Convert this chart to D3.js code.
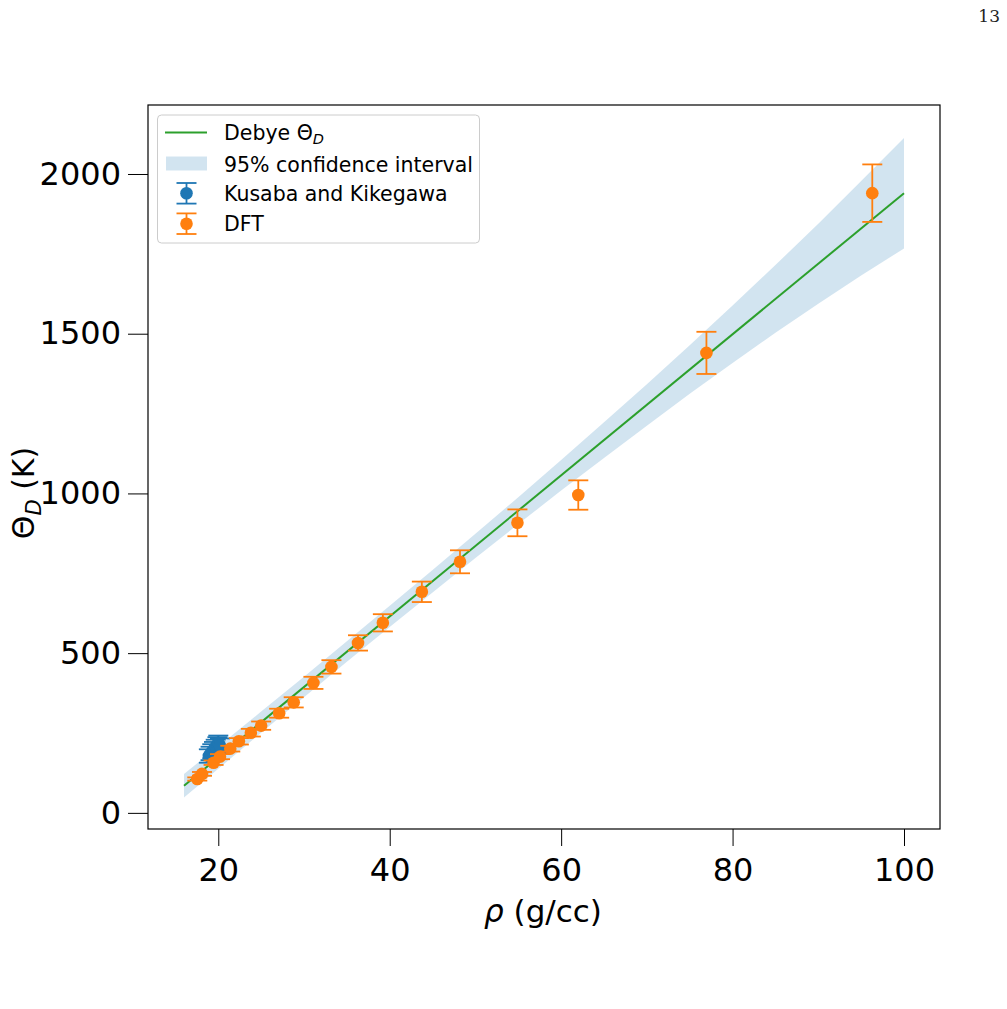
<!DOCTYPE html>
<html>
<head>
<meta charset="utf-8">
<script src="https://cdn.jsdelivr.net/npm/d3@7"></script>
<style>
  html, body { margin: 0; padding: 0; background: #fff; }
  svg { display: block; font-family: "DejaVu Sans", sans-serif; }
</style>
</head>
<body>
<svg id="chart" width="1007" height="1009"></svg>
<script>
// ---------------- data ----------------
const xTicks = [20, 40, 60, 80, 100];
const yTicks = [0, 500, 1000, 1500, 2000];

// Debye fit line (endpoints of the fitted line)
const fitRho   = [16, 100];
const fitTheta = [85, 1940];

// 95% confidence band
const bandRho  = [16, 20, 25, 30, 35, 40, 45, 50, 55, 60, 65, 70, 75, 80, 85, 90, 95, 100];
const bandLow  = [48, 138, 251, 362, 473, 582, 690, 798, 904, 1009, 1111, 1212, 1312, 1408, 1503, 1594, 1682, 1767];
const bandHigh = [122, 208, 317, 426, 537, 648, 760, 874, 988, 1105, 1223, 1342, 1464, 1588, 1715, 1844, 1978, 2113];

// Kusaba and Kikegawa
const kkRho   = [18.9, 19.1, 19.3, 19.5, 19.7, 19.9, 20.0, 20.2];
const kkTheta = [178, 186, 193, 200, 207, 214, 219, 210];
const kkErr   = [21, 21, 22, 22, 22, 23, 23, 23];

// DFT
const dftRho   = [17.55, 18.1, 19.45, 20.2, 21.4, 22.4, 23.8, 25.0, 27.1, 28.8, 31.1, 33.2, 36.3, 39.2, 43.75, 48.2, 54.9, 62.0, 76.95, 96.3];
const dftTheta = [106, 122, 157, 176, 201, 224, 251, 273, 312, 346, 407, 457, 532, 595, 692, 786, 908, 995, 1440, 1940];
const dftErr   = [5, 6, 7, 8, 9, 10, 12, 13, 14, 16, 19, 21, 24, 27, 32, 36, 42, 46, 66, 90];

const legendLabels = ["Debye", "95% confidence interval", "Kusaba and Kikegawa", "DFT"];

// ---------------- layout ----------------
const svg = d3.select("#chart");
const L = 148, R = 940, T = 105, B = 829;
const C_BLUE = "#1f77b4", C_ORANGE = "#ff7f0e", C_GREEN = "#2ca02c";

const x = d3.scaleLinear().domain([11.8, 104.2]).range([L, R]);
const y = d3.scaleLinear().domain([-50.5, 2216]).range([B, T]);

// page number
svg.append("text").attr("x", 1000).attr("y", 22).attr("text-anchor", "end")
  .style("font-family", "'DejaVu Serif', 'Liberation Serif', serif").style("font-size", "17px")
  .attr("fill", "#222").text("13");

const plot = svg.append("g");

// band
const band = bandRho.map((r, i) => ({r, lo: bandLow[i], hi: bandHigh[i]}));
plot.append("path").datum(band)
  .attr("d", d3.area().x(d => x(d.r)).y0(d => y(d.lo)).y1(d => y(d.hi)))
  .attr("fill", C_BLUE).attr("fill-opacity", 0.2);

// fit line
plot.append("path").datum(fitRho.map((r, i) => [r, fitTheta[i]]))
  .attr("d", d3.line().x(d => x(d[0])).y(d => y(d[1])))
  .attr("fill", "none").attr("stroke", C_GREEN).attr("stroke-width", 2);

function errorSeries(rho, th, err, color, capW) {
  const g = plot.append("g");
  const data = rho.map((r, i) => ({r, t: th[i], e: err[i]}));
  data.forEach(d => {
    g.append("line").attr("x1", x(d.r)).attr("x2", x(d.r))
      .attr("y1", y(d.t - d.e)).attr("y2", y(d.t + d.e))
      .attr("stroke", color).attr("stroke-width", 1.8);
    [d.t - d.e, d.t + d.e].forEach(v => {
      g.append("line").attr("x1", x(d.r) - capW).attr("x2", x(d.r) + capW)
        .attr("y1", y(v)).attr("y2", y(v))
        .attr("stroke", color).attr("stroke-width", 1.8);
    });
  });
  g.selectAll("circle").data(data).enter().append("circle")
    .attr("cx", d => x(d.r)).attr("cy", d => y(d.t)).attr("r", 6.3)
    .attr("fill", color);
}
errorSeries(kkRho, kkTheta, kkErr, C_BLUE, 10);
errorSeries(dftRho, dftTheta, dftErr, C_ORANGE, 10);

// frame
svg.append("rect").attr("x", L).attr("y", T).attr("width", R - L).attr("height", B - T)
  .attr("fill", "none").attr("stroke", "#000").attr("stroke-width", 1.2);

// axes
const xAxis = svg.append("g").attr("transform", `translate(0,${B})`)
  .call(d3.axisBottom(x).tickValues(xTicks).tickFormat(d3.format("d"))
    .tickSize(17).tickSizeOuter(0).tickPadding(12));
const yAxis = svg.append("g").attr("transform", `translate(${L},0)`)
  .call(d3.axisLeft(y).tickValues(yTicks).tickFormat(d3.format("d"))
    .tickSize(20).tickSizeOuter(0).tickPadding(7));
[xAxis, yAxis].forEach(a => {
  a.select(".domain").remove();
  a.selectAll(".tick line").attr("stroke", "#000").attr("stroke-width", 1);
  a.selectAll(".tick text").style("font-family", "'DejaVu Sans', sans-serif")
    .style("font-size", "32px").attr("fill", "#000");
});

// axis labels
const xl = svg.append("text").attr("x", 543).attr("y", 922).attr("text-anchor", "middle")
  .style("font-size", "31px").attr("fill", "#000");
xl.append("tspan").style("font-style", "italic").text("ρ");
xl.append("tspan").text(" (g/cc)");

const yl = svg.append("text").attr("transform", "translate(34,493) rotate(-90)")
  .attr("text-anchor", "middle").style("font-size", "30px").attr("fill", "#000");
yl.append("tspan").text("Θ");
yl.append("tspan").attr("dy", 7).style("font-style", "italic").style("font-size", "21px").text("D");
yl.append("tspan").attr("dy", -7).text(" (K)");

// legend
const lg = svg.append("g");
lg.append("rect").attr("x", 157.5).attr("y", 115).attr("width", 322).attr("height", 128)
  .attr("rx", 4).attr("fill", "#fff").attr("fill-opacity", 0.8)
  .attr("stroke", "#ccc").attr("stroke-width", 1);
lg.append("line").attr("x1", 165).attr("x2", 207).attr("y1", 132.5).attr("y2", 132.5)
  .attr("stroke", C_GREEN).attr("stroke-width", 2);
lg.append("rect").attr("x", 166).attr("y", 156.5).attr("width", 41).attr("height", 14)
  .attr("fill", C_BLUE).attr("fill-opacity", 0.2);
[[193.3, 10.3, C_BLUE], [223.7, 10.3, C_ORANGE]].forEach(([cy, h, c]) => {
  lg.append("line").attr("x1", 186.5).attr("x2", 186.5).attr("y1", cy - h).attr("y2", cy + h)
    .attr("stroke", c).attr("stroke-width", 1.8);
  [cy - h, cy + h].forEach(v => lg.append("line").attr("x1", 176.5).attr("x2", 196.5)
    .attr("y1", v).attr("y2", v).attr("stroke", c).attr("stroke-width", 1.8));
  lg.append("circle").attr("cx", 186.5).attr("cy", cy).attr("r", 6.3).attr("fill", c);
});
const baselines = [140, 172, 201, 231];
baselines.forEach((b, i) => {
  const t = lg.append("text").attr("x", 224).attr("y", b).style("font-size", "20.5px").attr("fill", "#000");
  t.append("tspan").text(legendLabels[i]);
  if (i === 0) {
    t.append("tspan").text(" Θ");
    t.append("tspan").attr("dy", 4).style("font-style", "italic").style("font-size", "14.5px").text("D");
  }
});
</script>
</body>
</html>
